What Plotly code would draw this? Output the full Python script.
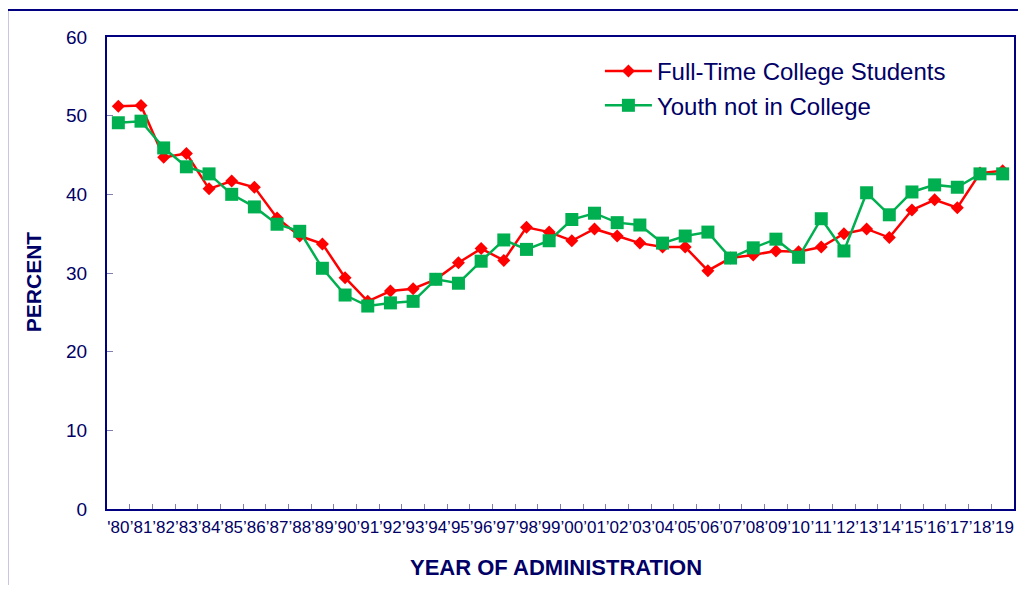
import plotly.graph_objects as go

years = ["'80"] + ["\u2019" + y for y in ["81","82","83","84","85","86","87","88","89",
         "90","91","92","93","94","95","96","97","98","99",
         "00","01","02","03","04","05","06","07","08","09",
         "10","11","12","13","14","15","16","17","18","19"]]

full_time_college = [51.2, 51.3, 44.7, 45.2, 40.7, 41.7, 40.9, 37.0, 34.7, 33.7,
                     29.4, 26.4, 27.7, 28.0, 29.2, 31.3, 33.1, 31.6, 35.8, 35.2,
                     34.1, 35.6, 34.7, 33.8, 33.3, 33.3, 30.3, 31.9, 32.3, 32.8,
                     32.7, 33.3, 35.0, 35.6, 34.5, 38.0, 39.3, 38.3, 42.7, 43.0]

youth_not_college = [49.1, 49.3, 45.9, 43.5, 42.6, 40.0, 38.4, 36.2, 35.3, 30.6,
                     27.2, 25.8, 26.2, 26.4, 29.2, 28.7, 31.5, 34.2, 33.0, 34.1,
                     36.8, 37.6, 36.4, 36.1, 33.8, 34.7, 35.2, 31.9, 33.2, 34.3,
                     32.0, 36.9, 32.8, 40.2, 37.4, 40.3, 41.2, 40.9, 42.6, 42.6]

NAVY = "#000080"
TEXT = "#000066"
FONT = "Liberation Sans, Arial, sans-serif"

fig = go.Figure()
fig.add_trace(go.Scatter(
    x=years, y=full_time_college, name="Full-Time College Students",
    mode="lines+markers",
    line=dict(color="#FF0000", width=2.5),
    marker=dict(symbol="diamond", size=10, color="#FF0000"),
))
fig.add_trace(go.Scatter(
    x=years, y=youth_not_college, name="Youth not in College",
    mode="lines+markers",
    line=dict(color="#00B050", width=2.5),
    marker=dict(symbol="square", size=13, color="#00B050"),
))

OFF = 8  # page body margin
W, H = 1026 - 2 * OFF, 593 - 2 * OFF
L, T = 107 - OFF, 37 - OFF
R = 2
B = H - (509 - OFF)
pw, ph = W - L - R, H - T - B

def px(x):
    return (x - OFF - L) / pw

def py(y):
    return (H - B - (y - OFF)) / ph

fig.update_layout(
    width=W, height=H,
    margin=dict(l=L, r=R, t=T, b=B, pad=0),
    paper_bgcolor="white", plot_bgcolor="white",
    font=dict(family=FONT, color=TEXT),
    showlegend=True,
    legend=dict(
        x=px(601), y=py(49), xanchor="left", yanchor="top",
        font=dict(family=FONT, size=24, color=TEXT),
        bgcolor="rgba(0,0,0,0)", itemwidth=47,
    ),
    xaxis=dict(
        type="category", range=[-0.5, 39.5],
        showgrid=False, zeroline=False,
        showline=True, linecolor=NAVY, linewidth=2, mirror=True,
        ticks="inside", tickson="boundaries", ticklen=5, tickcolor="#8080B0", tickwidth=1,
        tickangle=0, tickfont=dict(family=FONT, size=17, color=TEXT),
        ticklabelstandoff=2,
    ),
    yaxis=dict(
        range=[0, 60], dtick=10,
        showgrid=False, zeroline=False,
        showline=True, linecolor=NAVY, linewidth=2, mirror=True,
        ticks="inside", ticklen=6, tickcolor="#8080B0", tickwidth=1,
        tickfont=dict(family=FONT, size=19, color=TEXT),
        ticklabelstandoff=14,
    ),
    annotations=[
        dict(text="<b>PERCENT</b>", x=px(33), y=py(282), xref="paper", yref="paper",
             textangle=-90, showarrow=False, xanchor="center", yanchor="middle",
             font=dict(family=FONT, size=21, color=TEXT)),
        dict(text="<b>YEAR OF ADMINISTRATION</b>", x=px(557), y=py(567), xref="paper", yref="paper",
             showarrow=False, xanchor="center", yanchor="middle",
             font=dict(family=FONT, size=22, color=TEXT)),
    ],
    shapes=[
        dict(type="rect", xref="paper", yref="paper",
             x0=px(7), x1=px(1040), y0=py(610), y1=py(10),
             line=dict(color=NAVY, width=2), fillcolor="rgba(0,0,0,0)", layer="below"),
    ],
)

fig.write_html("out.html")
